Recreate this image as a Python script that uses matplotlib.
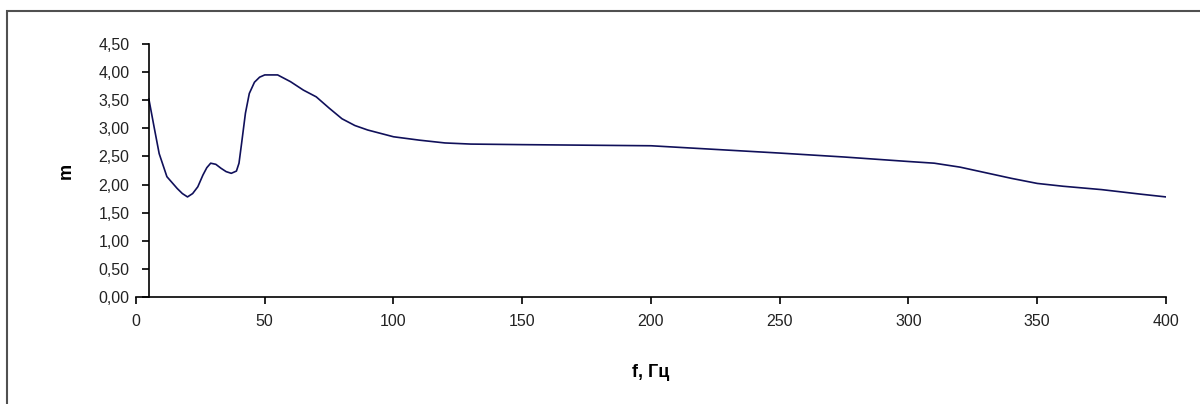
import matplotlib
matplotlib.use("Agg")
import matplotlib.pyplot as plt
from matplotlib.patches import Rectangle
from matplotlib.ticker import FuncFormatter

plt.rcParams['font.family'] = ['Liberation Sans', 'DejaVu Sans']

# данные
f = [5, 7, 9, 12, 16, 18, 20, 22, 24, 26, 27.5, 29, 31, 33, 35, 37, 39, 40,
     41, 42.5, 44, 46, 48, 50, 55, 60, 65, 70, 75, 80, 85, 90, 100, 110, 120,
     130, 150, 200, 250, 275, 300, 310, 320, 330, 340, 350, 360, 375, 390, 400]
m = [3.52, 3.03, 2.55, 2.14, 1.93, 1.84, 1.78, 1.84, 1.96, 2.17, 2.30, 2.38,
     2.36, 2.29, 2.23, 2.20, 2.24, 2.38, 2.73, 3.27, 3.62, 3.82, 3.91, 3.95,
     3.95, 3.83, 3.68, 3.56, 3.36, 3.17, 3.05, 2.97, 2.85, 2.79, 2.74, 2.72,
     2.71, 2.69, 2.56, 2.49, 2.41, 2.38, 2.31, 2.21, 2.11, 2.02, 1.97, 1.91,
     1.83, 1.78]

x_ticks = [0, 50, 100, 150, 200, 250, 300, 350, 400]
y_ticks = [0, 0.5, 1, 1.5, 2, 2.5, 3, 3.5, 4, 4.5]

fig = plt.figure(figsize=(12, 4.04), dpi=100)
ax = fig.add_axes([136 / 1200, 1 - 297 / 404, 1030 / 1200, 253 / 404])

ax.plot(f, m, color='#10105a', lw=1.2)

ax.set_xlim(0, 400)
ax.set_ylim(0, 4.5)
ax.set_xticks(x_ticks)
ax.set_yticks(y_ticks)
ax.yaxis.set_major_formatter(FuncFormatter(lambda v, p: ('%.2f' % v).replace('.', ',')))

ax.spines['top'].set_visible(False)
ax.spines['right'].set_visible(False)
ax.spines['left'].set_position(('data', 5))
ax.spines['left'].set_linewidth(1.2)
ax.spines['bottom'].set_linewidth(1.2)
ax.tick_params(direction='out', length=5, width=1.2, labelsize=11.5, colors='black')
ax.tick_params(axis='x', pad=7)
ax.tick_params(axis='y', pad=9)
for lab in ax.get_xticklabels() + ax.get_yticklabels():
    lab.set_color('#222222')

ax.set_xlabel('f, Гц', fontsize=13, fontweight='bold')
ax.set_ylabel('m', fontsize=13, fontweight='bold')
ax.xaxis.set_label_coords(0.5, -67 / 253)
ax.yaxis.set_label_coords(-61 / 1030, 0.5)

# рамка диаграммы
fig.patches.append(Rectangle((7 / 1200, -0.1), 2, (404 - 11) / 404 + 0.1,
                             transform=fig.transFigure, fill=False,
                             edgecolor='#505050', lw=1.5))

fig.savefig('out.png', dpi=100)
